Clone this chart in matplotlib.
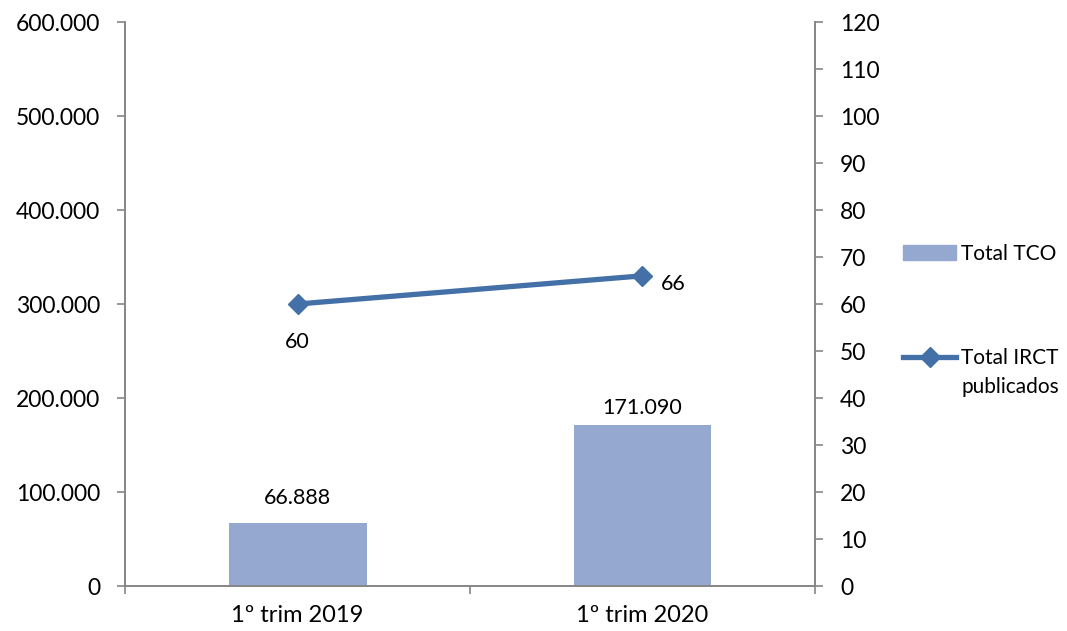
import numpy as np
import matplotlib.pyplot as plt
from matplotlib.lines import Line2D
from matplotlib.patches import Patch
from matplotlib.ticker import FuncFormatter

plt.rcParams['font.family'] = ['Lato', 'DejaVu Sans']

# datos
categorias = ['1º trim 2019', '1º trim 2020']
total_tco = [66888, 171090]
total_irct = [60, 66]
etiquetas_tco = ['66.888', '171.090']

color_barra = '#95A9D0'
color_linea = '#4470A8'
color_eje = '#868686'

fig = plt.figure(figsize=(10.67, 6.31), dpi=100)
ax = fig.add_axes([0.1172, 0.0713, 0.6466, 0.8938])
ax2 = ax.twinx()

x = np.arange(len(categorias))
ax.bar(x, total_tco, width=0.4, color=color_barra, zorder=2)
# las etiquetas no están a la misma distancia de la barra en el original
desplaz = [11, 5]
for xi, v, t, d in zip(x, total_tco, etiquetas_tco, desplaz):
    ax.annotate(t, (xi, v), xytext=(0, d), textcoords='offset points',
                ha='center', va='bottom', fontsize=15.5)

ax.set_xlim(-0.5, 1.5)
ax.set_ylim(0, 600000)
ax.set_yticks(np.arange(0, 600001, 100000))
ax.yaxis.set_major_formatter(FuncFormatter(lambda v, p: '0' if v == 0 else f'{int(v):,}'.replace(',', '.')))
ax.set_xticks([-0.5, 0.5, 1.5])
ax.set_xticklabels([])
ax.set_xticks(x, minor=True)
ax.set_xticklabels(categorias, minor=True)
ax.tick_params(axis='x', which='major', length=6, color=color_eje, width=1.2)
ax.tick_params(axis='x', which='minor', length=0, pad=14, labelsize=17)
ax.tick_params(axis='y', length=6, color=color_eje, width=1.2, labelsize=16.5, pad=12)

ax2.plot(x, total_irct, color=color_linea, lw=3.8, marker='D', ms=10.5, zorder=3)
ax2.set_ylim(0, 120)
ax2.set_yticks(np.arange(0, 121, 10))
ax2.tick_params(axis='y', length=6, color=color_eje, width=1.2, labelsize=16.5, pad=12)
ax2.annotate(str(total_irct[0]), (x[0], total_irct[0]), xytext=(0, -27),
             textcoords='offset points', ha='center', va='center', fontsize=15.5)
ax2.annotate(str(total_irct[1]), (x[1], total_irct[1]), xytext=(22, -6),
             textcoords='offset points', ha='center', va='center', fontsize=15.5)

for a in (ax, ax2):
    a.spines['top'].set_visible(False)
    for s in ('left', 'right', 'bottom'):
        a.spines[s].set_color(color_eje)
        a.spines[s].set_linewidth(1.2)

handles = [Patch(color=color_barra),
           Line2D([0], [0], color=color_linea, lw=3.8, marker='D', ms=10.5)]
fig.legend(handles, ['Total TCO', 'Total IRCT'],
           loc='upper left', bbox_to_anchor=(0.8463, 0.6134), frameon=False,
           fontsize=15, labelspacing=4.03, handlelength=2.55, handletextpad=0.25,
           borderpad=0, borderaxespad=0)
fig.text(0.9007, 1 - 387 / 631, 'publicados', ha='left', va='center', fontsize=15)

fig.savefig('out.png', dpi=100)
